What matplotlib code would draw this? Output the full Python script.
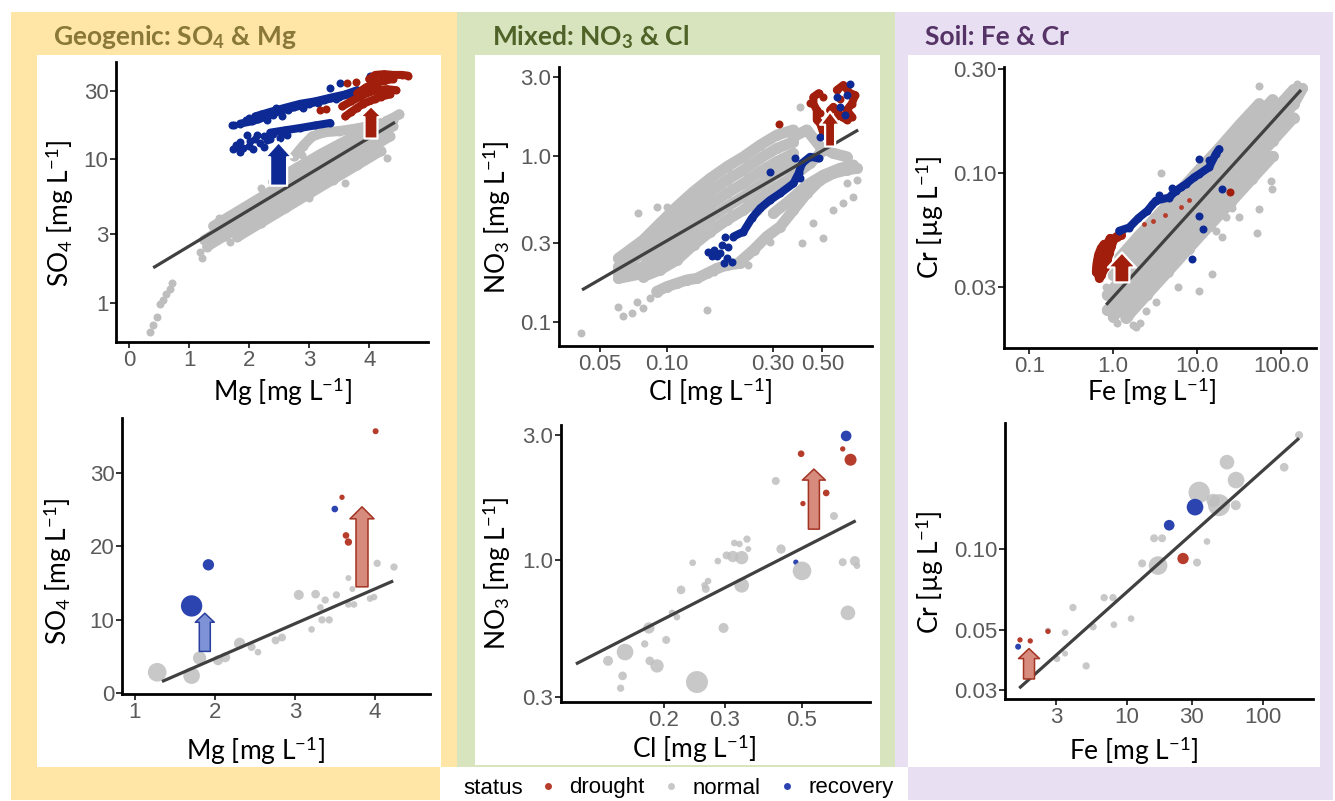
import matplotlib
matplotlib.use('Agg')
import matplotlib.pyplot as plt
from matplotlib.patches import Rectangle, FancyArrowPatch
from matplotlib.lines import Line2D

plt.rcParams['font.family'] = ['Liberation Sans', 'DejaVu Sans']
plt.rcParams['mathtext.fontset'] = 'custom'
plt.rcParams['mathtext.rm'] = 'Lato'
plt.rcParams['mathtext.it'] = 'Lato:italic'
plt.rcParams['mathtext.bf'] = 'Lato:bold'

# ======================= DATA =======================
status_labels = ['drought', 'normal', 'recovery']

# ---- Top-left: Mg vs SO4 (daily series) ----
tl_gray_tracks_x = [
    [1.8, 2.2, 2.6, 3.0, 3.4, 3.8, 4.2],
    [1.3, 1.6, 2.0, 2.4, 2.8, 3.2, 3.6, 4.0, 4.35],
    [1.25, 1.6, 2.0, 2.4, 2.8, 3.2, 3.6, 4.0, 4.4],
    [1.4, 1.8, 2.2, 2.6, 3.0, 3.4, 3.8, 4.2, 4.5],
    [2.4, 2.8, 3.2, 3.6, 4.0, 4.4],
    [2.75, 2.9, 3.05, 3.25, 3.5, 3.8, 4.1, 4.4],
]
tl_gray_tracks_y = [
    [2.86, 3.61, 4.55, 5.74, 7.24, 9.12, 11.5],
    [2.46, 2.93, 3.69, 4.66, 5.87, 7.40, 9.32, 11.8, 14.5],
    [2.74, 3.36, 4.23, 5.35, 6.74, 8.50, 10.7, 13.6, 17.1],
    [3.43, 4.33, 5.47, 6.89, 8.69, 11.0, 13.8, 17.4, 20.7],
    [7.0, 8.8, 11.0, 13.5, 16.5, 19.5],
    [10.5, 12.5, 14.5, 15.5, 15.8, 16.5, 17.5, 19.0],
]
tl_gray_x = [0.35, 0.40, 0.46, 0.52, 0.57, 0.62, 0.68, 0.72, 1.18, 1.22, 1.68, 2.88, 3.04,
             2.2, 3.0, 3.6, 4.3, 1.5]
tl_gray_y = [0.62, 0.70, 0.79, 0.98, 1.05, 1.15, 1.25, 1.36, 2.25, 2.05, 2.65, 10.8, 14.5,
             6.3, 5.4, 6.8, 10.2, 3.9]
tl_blue_tracks_x = [
    [1.85, 2.05, 2.3, 2.5, 2.75, 3.0, 3.25, 3.5, 3.75],
    [2.1, 2.35, 2.6, 2.85, 3.1, 3.35, 3.6, 3.8],
    [2.35, 2.6, 2.85, 3.1, 3.35],
]
tl_blue_tracks_y = [
    [17.8, 18.5, 20.0, 21.8, 23.2, 24.5, 26.0, 27.5, 29.0],
    [20.0, 21.5, 23.0, 24.5, 25.5, 27.0, 28.5, 30.5],
    [15.4, 16.0, 16.6, 17.3, 18.0],
]
tl_blue_x = [1.73, 1.85, 2.02, 2.13, 2.3, 2.52, 2.63, 1.85, 2.07, 2.18, 1.96, 2.4, 1.78, 2.25,
             3.52, 3.35, 4.02, 1.72, 2.0, 2.2, 2.45,
             1.75, 1.95, 2.15, 2.4, 2.65, 2.9, 3.15, 3.45, 2.3, 2.55,
             1.8, 1.9, 2.0, 2.1, 2.25, 2.35, 2.55]
tl_blue_y = [11.9, 13.2, 13.4, 14.8, 13.7, 14.2, 14.8, 11.2, 11.9, 13.0, 14.8, 15.1, 12.6, 12.3,
             34.3, 31.6, 38.5, 17.5, 19.6, 20.8, 22.8,
             17.3, 18.8, 19.3, 20.5, 22.0, 23.0, 25.0, 26.5, 18.8, 20.2,
             12.2, 12.0, 12.5, 13.8, 14.5, 14.0, 15.0]
tl_red_tracks_x = [
    [3.6, 3.7, 3.8, 3.9, 4.0, 4.1, 4.2, 4.35],
    [3.55, 3.7, 3.85, 4.0, 4.15, 4.3, 4.45],
    [3.8, 3.95, 4.1, 4.25, 4.4],
    [4.0, 4.1, 4.25, 4.4, 4.55, 4.65],
]
tl_red_tracks_y = [
    [20.0, 21.5, 23.0, 24.5, 25.5, 26.5, 27.5, 28.5],
    [23.5, 25.5, 27.5, 29.5, 30.5, 31.0, 30.5],
    [29.0, 32.0, 34.0, 35.5, 36.5],
    [36.5, 39.0, 39.5, 39.0, 39.0, 38.5],
]
tl_red_x = [3.18, 3.28, 3.63, 3.78]
tl_red_y = [22.1, 22.5, 34.3, 35.0]
tl_fit_x = [0.4, 4.43]
tl_fit_y = [1.75, 18.2]

# ---- Top-middle: Cl vs NO3 ----
tm_gray_tracks_x = [
    [0.0604, 0.0781, 0.0929, 0.1106, 0.1315, 0.1563, 0.1858, 0.2208, 0.2624, 0.3119, 0.3707],
    [0.0604, 0.0781, 0.0929, 0.1106, 0.1315, 0.1563, 0.1858, 0.2208, 0.2624, 0.3119, 0.3707],
    [0.0604, 0.0781, 0.0929, 0.1106, 0.1315, 0.1563, 0.1858, 0.2208, 0.2624, 0.3119, 0.3707],
    [0.0604, 0.0781, 0.0929, 0.1106, 0.1315, 0.1563, 0.1858, 0.2208, 0.2624, 0.3119, 0.3707],
    [0.0781, 0.0929, 0.1106, 0.1315, 0.1563, 0.1858, 0.2208, 0.2624, 0.3119, 0.3707],
    [0.0897, 0.0996, 0.1106, 0.1227, 0.136, 0.151, 0.1675, 0.1858, 0.2133],
    [0.2133, 0.245, 0.281, 0.323, 0.3707, 0.4256, 0.489, 0.561, 0.644, 0.7145],
    [0.301, 0.358, 0.4256, 0.506, 0.601, 0.690],
    [0.2535, 0.291, 0.334, 0.384, 0.4406, 0.506],
    [0.3707, 0.4256, 0.489, 0.561, 0.644],
]
tm_gray_tracks_y = [
    [0.242, 0.312, 0.393, 0.495, 0.610, 0.733, 0.862, 0.990, 1.164, 1.337, 1.436],
    [0.215, 0.259, 0.327, 0.411, 0.507, 0.610, 0.716, 0.824, 0.968, 1.112, 1.219],
    [0.196, 0.215, 0.272, 0.342, 0.421, 0.507, 0.596, 0.684, 0.805, 0.925, 1.037],
    [0.183, 0.196, 0.231, 0.284, 0.350, 0.421, 0.495, 0.569, 0.668, 0.787, 0.883],
    [0.1876, 0.206, 0.236, 0.291, 0.350, 0.411, 0.473, 0.556, 0.653, 0.750],
    [0.1525, 0.163, 0.171, 0.179, 0.183, 0.196, 0.210, 0.220, 0.2255],
    [0.231, 0.272, 0.327, 0.375, 0.473, 0.596, 0.716, 0.787, 0.824, 0.843],
    [0.451, 0.543, 0.668, 0.768, 0.843, 0.883],
    [0.473, 0.556, 0.653, 0.787, 0.904, 1.086],
    [1.306, 1.436, 1.138, 1.037, 0.990],
]
tm_gray_x = [0.0408, 0.0604, 0.063, 0.0693, 0.073, 0.0781, 0.0838, 0.151, 0.0743, 0.0897, 0.0996,
             0.107, 0.397, 0.506, 0.405, 0.456, 0.561, 0.6223, 0.690, 0.644, 0.7145, 0.291,
             0.162, 0.232]
tm_gray_y = [0.0855, 0.1225, 0.1086, 0.1127, 0.1325, 0.121, 0.1387, 0.118, 0.452, 0.491, 0.495,
             0.473, 1.98, 0.319, 0.298, 0.393, 0.473, 0.518, 0.569, 0.684, 0.716, 0.305,
             0.201, 0.220]
tm_blue_track_x = [0.199, 0.2208, 0.2405, 0.2624, 0.291, 0.323, 0.3707, 0.391, 0.405, 0.4406, 0.481]
tm_blue_track_y = [0.327, 0.350, 0.421, 0.484, 0.543, 0.596, 0.684, 0.787, 0.904, 0.990, 0.968]
tm_blue_x = [0.1535, 0.162, 0.1675, 0.1733, 0.1795, 0.1858, 0.1888, 0.1954, 0.1824, 0.159, 0.1763,
             0.291, 0.667, 0.644, 0.601, 0.634, 0.581, 0.489, 0.378, 0.397]
tm_blue_y = [0.2655, 0.272, 0.248, 0.259, 0.2255, 0.2415, 0.284, 0.231, 0.327, 0.248, 0.291,
             0.805, 2.72, 2.33, 1.98, 1.77, 2.27, 1.306, 0.968, 0.74]
tm_red_tracks_x = [
    [0.481, 0.456, 0.456, 0.472, 0.472, 0.489, 0.506, 0.5237],
    [0.581, 0.6223, 0.667, 0.703, 0.679, 0.644, 0.679, 0.644, 0.612, 0.561, 0.542],
]
tm_red_tracks_y = [
    [2.39, 2.27, 2.07, 1.89, 1.65, 1.57, 1.37, 1.306],
    [2.50, 2.68, 2.39, 2.33, 2.07, 1.89, 1.73, 1.65, 1.73, 1.98, 1.89],
]
tm_red_x = [0.32, 0.506, 0.489, 0.44, 0.60, 0.58]
tm_red_y = [1.56, 2.27, 1.81, 2.10, 2.20, 1.75]
tm_fit_x = [0.0414, 0.725]
tm_fit_y = [0.156, 1.435]

# ---- Top-right: Fe vs Cr ----
tr_gray_tracks_x = [
    [1.413, 2.512, 4.467, 7.943, 14.13, 25.12, 44.67, 79.43],
    [1.0, 1.413, 2.512, 4.467, 7.943, 14.13, 25.12, 44.67, 79.43, 141.3],
    [0.85, 1.413, 2.512, 4.467, 7.943, 14.13, 25.12, 44.67, 79.43, 141.3, 180],
    [0.85, 1.413, 2.512, 4.467, 7.943, 14.13, 25.12, 44.67, 79.43, 141.3],
    [1.0, 1.413, 2.512, 4.467, 7.943, 14.13, 25.12, 44.67, 79.43],
    [1.2, 2.0, 3.5, 6.0, 10, 18, 32, 55],
]
tr_gray_tracks_y = [
    [0.0215, 0.0275, 0.0351, 0.0449, 0.0573, 0.0731, 0.0933, 0.119],
    [0.0218, 0.0253, 0.0323, 0.0412, 0.0527, 0.0673, 0.0859, 0.1096, 0.140, 0.179],
    [0.0234, 0.029, 0.0371, 0.0473, 0.0605, 0.0773, 0.0986, 0.126, 0.161, 0.206, 0.244],
    [0.0275, 0.0341, 0.0436, 0.0556, 0.0711, 0.0908, 0.116, 0.148, 0.189, 0.2415],
    [0.0338, 0.0392, 0.05, 0.0638, 0.0817, 0.104, 0.133, 0.17, 0.217],
    [0.041, 0.0512, 0.0646, 0.0812, 0.101, 0.129, 0.166, 0.208],
]
tr_gray_x = [3.69, 54.7, 52.2, 54.7, 75.3, 78.9, 43.5, 14.9, 10.4, 0.818, 0.98, 1.55, 1.86, 2.45,
             1.3, 2.1, 1.7, 20.0, 26.3, 16.7, 14.6, 31.6, 21.9, 156, 71.9, 3.2, 6.0, 1.1]
tr_gray_y = [0.1, 0.251, 0.0532, 0.068, 0.0918, 0.0841, 0.0935, 0.0343, 0.0288, 0.0298, 0.025,
             0.0217, 0.0195, 0.0233, 0.0225, 0.0205, 0.0200, 0.0505, 0.0693, 0.0542, 0.0603,
             0.0624, 0.0624, 0.255, 0.21, 0.0255, 0.0300, 0.0205]
tr_blue_track_x = [1.18, 1.55, 2.0, 2.56, 3.22, 4.64, 5.57, 7.33, 9.2, 10.6, 13.9, 16.7, 18.3]
tr_blue_track_y = [0.0542, 0.0561, 0.062, 0.067, 0.0745, 0.077, 0.0827, 0.0887, 0.0953, 0.0987,
                   0.106, 0.122, 0.1285]
tr_blue_x = [10.4, 20.0, 10.6, 11.6, 8.8, 2.9, 6.5, 3.5, 5.0, 14.0]
tr_blue_y = [0.1156, 0.0841, 0.0635, 0.0552, 0.0402, 0.072, 0.086, 0.079, 0.085, 0.115]
tr_red_tracks_x = [
    [0.66, 0.68, 0.72, 0.8, 0.85, 0.9, 0.95, 1.0, 1.1, 1.25],
    [0.65, 0.7, 0.78, 0.85, 0.92],
    [0.63, 0.64, 0.67, 0.72, 0.78],
]
tr_red_tracks_y = [
    [0.036, 0.033, 0.034, 0.037, 0.04, 0.043, 0.046, 0.049, 0.051, 0.052],
    [0.039, 0.041, 0.043, 0.047, 0.05],
    [0.035, 0.038, 0.042, 0.045, 0.047],
]
tr_red_x = [24.7, 0.70, 0.75, 0.62]
tr_red_y = [0.0813, 0.036, 0.039, 0.037]
tr_red_small_x = [2.3, 3.0, 4.2, 6.5, 8.0]
tr_red_small_y = [0.058, 0.06, 0.064, 0.07, 0.075]
tr_fit_x = [0.826, 173]
tr_fit_y = [0.0248, 0.240]

# ---- Bottom-left: Mg vs SO4 (site means, size = n) ----
bl_gray_x = [1.28, 1.71, 1.81, 2.04, 2.13, 2.31, 2.46, 2.54, 2.76, 2.84, 3.05, 3.21, 3.26, 3.32,
             3.38, 3.34, 3.43, 3.52, 3.67, 3.74, 3.67, 3.72, 3.94, 3.99, 4.03, 4.24]
bl_gray_y = [2.86, 2.4, 4.8, 4.5, 4.9, 6.8, 6.3, 5.6, 7.2, 7.6, 13.4, 8.7, 13.5, 11.7,
             12.7, 10.0, 10.0, 13.4, 12.1, 12.1, 15.7, 14.2, 12.9, 13.1, 17.7, 17.2]
bl_gray_n = [28, 25, 20, 15, 15, 17, 12, 10, 12, 12, 15, 10, 13, 10,
             11, 11, 11, 11, 10, 10, 9, 9, 10, 10, 11, 11]
bl_blue_x = [1.71, 1.92, 3.5]
bl_blue_y = [11.9, 17.5, 25.1]
bl_blue_n = [32, 17, 10]
bl_red_x = [4.01, 3.59, 3.64, 3.67]
bl_red_y = [35.7, 26.7, 21.5, 20.6]
bl_red_n = [9, 8, 10, 11]
bl_fit_x = [1.34, 4.23]
bl_fit_y = [1.6, 15.3]

# ---- Bottom-middle: Cl vs NO3 ----
bm_gray_x = [0.138, 0.1545, 0.152, 0.150, 0.176, 0.181, 0.182, 0.191, 0.203, 0.211, 0.218, 0.224,
             0.242, 0.249, 0.264, 0.268, 0.262, 0.286, 0.297, 0.303, 0.316, 0.319, 0.33, 0.335,
             0.335, 0.347, 0.35, 0.42, 0.435, 0.50, 0.618, 0.655, 0.71, 0.72, 0.678]
bm_gray_y = [0.412, 0.445, 0.361, 0.324, 0.478, 0.55, 0.412, 0.394, 0.495, 0.628, 0.605, 0.768,
             0.975, 0.342, 0.775, 0.83, 0.80, 0.99, 0.55, 1.04, 1.03, 1.16, 1.15, 1.02,
             0.80, 1.2, 1.1, 2.0, 1.1, 0.908, 1.47, 0.98, 0.99, 0.95, 0.628]
bm_gray_n = [15, 25, 13, 11, 11, 17, 13, 20, 12, 10, 10, 13,
             10, 33, 12, 10, 10, 10, 15, 12, 17, 10, 10, 20,
             22, 11, 9, 12, 14, 28, 12, 12, 15, 10, 22]
bm_blue_x = [0.67, 0.48]
bm_blue_y = [2.97, 0.98]
bm_blue_n = [16, 8]
bm_red_x = [0.497, 0.655, 0.69, 0.587, 0.503]
bm_red_y = [2.54, 2.65, 2.41, 1.80, 1.64]
bm_red_n = [10, 8, 18, 10, 8]
bm_fit_x = [0.1115, 0.714]
bm_fit_y = [0.401, 1.41]

# ---- Bottom-right: Fe vs Cr ----
br_gray_x = [184, 54.3, 143, 63.3, 33.9, 42.9, 47.4, 63, 38.7, 15.8, 18.1, 12.9, 16.9, 32.7, 6.78,
             7.88, 4.0, 10.7, 5.62, 8.0, 2.62, 3.5, 3.05, 3.5, 5.0, 1.87]
br_gray_y = [0.266, 0.211, 0.202, 0.181, 0.163, 0.152, 0.146, 0.146, 0.107, 0.11, 0.11, 0.0887,
             0.0871, 0.0894, 0.0662, 0.0662, 0.0608, 0.0553, 0.0516, 0.0525, 0.0499, 0.049,
             0.0392, 0.041, 0.0369, 0.0339]
br_gray_n = [12, 22, 13, 25, 32, 20, 33, 15, 10, 12, 12, 12, 28, 12, 11,
             11, 11, 10, 11, 10, 9, 10, 10, 9, 11, 11]
br_blue_x = [31.6, 20.4, 1.58]
br_blue_y = [0.1436, 0.123, 0.0435]
br_blue_n = [25, 16, 9]
br_red_x = [25.8, 1.63, 1.94, 2.62]
br_red_y = [0.0925, 0.0461, 0.0457, 0.0496]
br_red_n = [17, 8, 8, 8]
br_fit_x = [1.61, 184]
br_fit_y = [0.0305, 0.259]

# ---- arrows: (x, start, end) ----
tl_arrows = [(2.49, 6.56, 13.2, 'blue'), (4.03, 14.0, 23.6, 'red')]
tm_arrows = [(0.542, 1.14, 1.85, 'red')]
tr_arrows = [(1.27, 0.0314, 0.0431, 'red')]
bl_arrows = [(1.875, 5.7, 10.9, 'blue'), (3.84, 14.5, 25.4, 'red')]
bm_arrows = [(0.541, 1.31, 2.22, 'red')]
br_arrows = [(1.90, 0.033, 0.0428, 'red')]

# ======================= STYLE =======================
W, H = 1335, 801
C_GRAY = '#BEBEBE'
C_RED = '#A21E0C'
C_BLUE = '#0D2A94'
C_RED2 = '#B63C2C'
C_BLUE2 = '#2B44B0'
C_GRAY2 = '#BFBFBF'
TICK_C = '#5A5A5A'
FIT_C = '#404040'
PT = 0.72  # points per pixel at 100 dpi
TMS = 8 * PT
GMS = 11 * PT

fig = plt.figure(figsize=(W / 100, H / 100), dpi=100)
fig.patch.set_facecolor('white')


def bg(x0, y0, x1, y1, color):
    fig.add_artist(Rectangle((x0 / W, 1 - y1 / H), (x1 - x0) / W, (y1 - y0) / H,
                             transform=fig.transFigure, facecolor=color,
                             edgecolor='none', zorder=-10))


bg(11, 12, 457, 800, '#FFE6A6')
bg(457, 12, 895, 767, '#D7E4BD')
bg(895, 12, 1333, 800, '#E9DFF2')
bg(440, 767, 908, 801, 'white')
bg(37, 55, 441, 767, 'white')
bg(475, 55, 880, 765, 'white')
bg(908, 55, 1320, 767, 'white')


def make_ax(l, t, r, b, xlog, ylog, xlim, ylim, xt, xtl, yt, ytl):
    ax = fig.add_axes([l / W, 1 - b / H, (r - l) / W, (b - t) / H])
    ax.set_facecolor('none')
    if xlog:
        ax.set_xscale('log')
    if ylog:
        ax.set_yscale('log')
    ax.set_xlim(*xlim)
    ax.set_ylim(*ylim)
    ax.set_xticks(xt)
    ax.set_xticklabels(xtl)
    ax.set_yticks(yt)
    ax.set_yticklabels(ytl)
    ax.minorticks_off()
    for s in ['top', 'right']:
        ax.spines[s].set_visible(False)
    for s in ['left', 'bottom']:
        ax.spines[s].set_linewidth(2.0)
        ax.spines[s].set_color('black')
    ax.tick_params(length=4, width=1.4, color='#333333', labelsize=16,
                   labelcolor=TICK_C, pad=1.5)
    return ax


def tracks(ax, xs, ys, color, z, w=TMS):
    for x, y in zip(xs, ys):
        ax.plot(x, y, color=color, lw=w, marker='o', ms=w, mec='none',
                solid_capstyle='round', solid_joinstyle='round', zorder=z)


def pts(ax, x, y, color, z, ms=TMS):
    ax.plot(x, y, ls='none', marker='o', ms=ms, mfc=color, mec='none', zorder=z)


def bubbles(ax, x, y, n, color, z, alpha=1.0):
    s = [(2 * v / 3 * PT) ** 2 for v in n]
    ax.scatter(x, y, s=s, c=color, edgecolors='none', alpha=alpha, zorder=z)


def fit(ax, x, y):
    ax.plot(x, y, color=FIT_C, lw=2.3, solid_capstyle='butt', zorder=5)


def arrows_top(ax, specs, tail, head, hl):
    for (x, y0, y1, kind), tw, hw, h in zip(specs, tail, head, hl):
        fc = C_BLUE if kind == 'blue' else C_RED
        st = f"simple,head_length={h * PT},head_width={hw * PT},tail_width={tw * PT}"
        ax.add_patch(FancyArrowPatch((x, y0), (x, y1), arrowstyle=st, mutation_scale=1,
                                     shrinkA=0, shrinkB=0, fc=fc, ec='white', lw=1.6,
                                     zorder=7))


def arrows_bottom(ax, specs, tail, head, hl):
    for (x, y0, y1, kind), tw, hw, h in zip(specs, tail, head, hl):
        if kind == 'blue':
            fc, ec = '#7E92D6', '#2B3F9E'
        else:
            fc, ec = '#D68B7D', '#A33323'
        st = f"simple,head_length={h * PT},head_width={hw * PT},tail_width={tw * PT}"
        ax.add_patch(FancyArrowPatch((x, y0), (x, y1), arrowstyle=st, mutation_scale=1,
                                     shrinkA=0, shrinkB=0, fc=fc, ec=ec, lw=1.1,
                                     zorder=7))


# ---- Top-left ----
ax = make_ax(116, 62, 428, 342, False, True, (-0.22, 4.98), (0.53, 48),
             [0, 1, 2, 3, 4], ['0', '1', '2', '3', '4'],
             [1, 3, 10, 30], ['1', '3', '10', '30'])
tracks(ax, tl_gray_tracks_x, tl_gray_tracks_y, C_GRAY, 2, w=10 * PT)
pts(ax, tl_gray_x, tl_gray_y, C_GRAY, 2)
tracks(ax, tl_blue_tracks_x, tl_blue_tracks_y, C_BLUE, 3)
pts(ax, tl_blue_x, tl_blue_y, C_BLUE, 3)
tracks(ax, tl_red_tracks_x, tl_red_tracks_y, C_RED, 4)
pts(ax, tl_red_x, tl_red_y, C_RED, 4)
fit(ax, tl_fit_x, tl_fit_y)
arrows_top(ax, tl_arrows, [17, 13], [27, 22], [15, 11])

# ---- Top-middle ----
ax = make_ax(559, 67, 872, 346, True, True, (0.0326, 0.837), (0.0716, 3.44),
             [0.05, 0.10, 0.30, 0.50], ['0.05', '0.10', '0.30', '0.50'],
             [0.1, 0.3, 1.0, 3.0], ['0.1', '0.3', '1.0', '3.0'])
tracks(ax, tm_gray_tracks_x, tm_gray_tracks_y, C_GRAY, 2, w=GMS)
pts(ax, tm_gray_x, tm_gray_y, C_GRAY, 2)
tracks(ax, tm_red_tracks_x, tm_red_tracks_y, C_RED, 3)
pts(ax, tm_red_x, tm_red_y, C_RED, 3)
tracks(ax, [tm_blue_track_x], [tm_blue_track_y], C_BLUE, 4)
pts(ax, tm_blue_x, tm_blue_y, C_BLUE, 4)
fit(ax, tm_fit_x, tm_fit_y)
arrows_top(ax, tm_arrows, [10], [20], [13])

# ---- Top-right ----
ax = make_ax(1004, 67, 1316, 348, True, True, (0.05, 261), (0.0157, 0.306),
             [0.1, 1, 10, 100], ['0.1', '1.0', '10.0', '100.0'],
             [0.03, 0.1, 0.3], ['0.03', '0.10', '0.30'])
tracks(ax, tr_gray_tracks_x, tr_gray_tracks_y, C_GRAY, 2, w=GMS)
pts(ax, tr_gray_x, tr_gray_y, C_GRAY, 2)
tracks(ax, tr_red_tracks_x, tr_red_tracks_y, C_RED, 3, w=9 * PT)
pts(ax, tr_red_x, tr_red_y, C_RED, 3)
pts(ax, tr_red_small_x, tr_red_small_y, C_RED2, 3, ms=3.5)
tracks(ax, [tr_blue_track_x], [tr_blue_track_y], C_BLUE, 4)
pts(ax, tr_blue_x, tr_blue_y, C_BLUE, 4)
fit(ax, tr_fit_x, tr_fit_y)
arrows_top(ax, tr_arrows, [15], [28], [15])

# ---- Bottom-left ----
ax = make_ax(122, 418, 430, 694, False, False, (0.84, 4.69), (-0.1, 37.5),
             [1, 2, 3, 4], ['1', '2', '3', '4'],
             [0, 10, 20, 30], ['0', '10', '20', '30'])
bubbles(ax, bl_gray_x, bl_gray_y, bl_gray_n, C_GRAY2, 2, alpha=0.85)
bubbles(ax, bl_blue_x, bl_blue_y, bl_blue_n, C_BLUE2, 3)
bubbles(ax, bl_red_x, bl_red_y, bl_red_n, C_RED2, 3)
fit(ax, bl_fit_x, bl_fit_y)
arrows_bottom(ax, bl_arrows, [11, 12], [19, 24], [9, 12])

# ---- Bottom-middle ----
ax = make_ax(561, 425, 870, 702, True, True, (0.101, 0.785), (0.287, 3.27),
             [0.2, 0.3, 0.5], ['0.2', '0.3', '0.5'],
             [0.3, 1.0, 3.0], ['0.3', '1.0', '3.0'])
bubbles(ax, bm_gray_x, bm_gray_y, bm_gray_n, C_GRAY2, 2, alpha=0.85)
bubbles(ax, bm_blue_x, bm_blue_y, bm_blue_n, C_BLUE2, 1)
bubbles(ax, bm_red_x, bm_red_y, bm_red_n, C_RED2, 3)
fit(ax, bm_fit_x, bm_fit_y)
arrows_bottom(ax, bm_arrows, [11], [23], [11])

# ---- Bottom-right ----
ax = make_ax(1005, 423, 1313, 699, True, True, (1.265, 233), (0.0278, 0.295),
             [3, 10, 30, 100], ['3', '10', '30', '100'],
             [0.03, 0.05, 0.10], ['0.03', '0.05', '0.10'])
bubbles(ax, br_gray_x, br_gray_y, br_gray_n, C_GRAY2, 2, alpha=0.85)
bubbles(ax, br_blue_x, br_blue_y, br_blue_n, C_BLUE2, 3)
bubbles(ax, br_red_x, br_red_y, br_red_n, C_RED2, 3)
fit(ax, br_fit_x, br_fit_y)
arrows_bottom(ax, br_arrows, [11], [21], [10])

# ======================= TEXT =======================
def ftext(px, py, s, **kw):
    fig.text(px / W, 1 - py / H, s, **kw)


title_kw = dict(fontsize=19, fontweight='bold', family=['Lato', 'DejaVu Sans'],
                ha='left', va='baseline')
ftext(53, 45, r'Geogenic: SO$_\mathbf{4}$ & Mg', color='#8A7838', **title_kw)
ftext(492, 45, r'Mixed: NO$_\mathbf{3}$ & Cl', color='#4F6228', **title_kw)
ftext(925, 45, 'Soil: Fe & Cr', color='#553366', **title_kw)

lab_kw = dict(fontsize=19, color='black', ha='center', va='center',
              family=['Lato', 'DejaVu Sans'])
ftext(282, 392, r'Mg [mg L$^{-1}$]', **lab_kw)
ftext(255, 751, r'Mg [mg L$^{-1}$]', **lab_kw)
ftext(710, 392, r'Cl [mg L$^{-1}$]', **lab_kw)
ftext(694, 749, r'Cl [mg L$^{-1}$]', **lab_kw)
ftext(1152, 392, r'Fe [mg L$^{-1}$]', **lab_kw)
ftext(1134, 751, r'Fe [mg L$^{-1}$]', **lab_kw)
ftext(60, 213, r'SO$_4$ [mg L$^{-1}$]', rotation=90, **lab_kw)
ftext(58, 571, r'SO$_4$ [mg L$^{-1}$]', rotation=90, **lab_kw)
ftext(497, 217, r'NO$_3$ [mg L$^{-1}$]', rotation=90, **lab_kw)
ftext(497, 573, r'NO$_3$ [mg L$^{-1}$]', rotation=90, **lab_kw)
ftext(930, 217, r'Cr [µg L$^{-1}$]', rotation=90, **lab_kw)
ftext(930, 572, r'Cr [µg L$^{-1}$]', rotation=90, **lab_kw)

# ---- legend ----
ftext(463, 788, 'status', fontsize=16, color='black', ha='left', va='center')
handles = [Line2D([], [], ls='none', marker='o', ms=5, mfc=c, mec='none')
           for c in [C_RED2, '#C8C8C8', C_BLUE2]]
fig.legend(handles, status_labels, ncol=3, loc='center left',
           bbox_to_anchor=(538 / W, 1 - 788 / H), frameon=False, fontsize=16,
           handlelength=0.9, handletextpad=0.5, columnspacing=0.75,
           borderpad=0, borderaxespad=0)

fig.savefig('out.png', dpi=100, facecolor='white')
